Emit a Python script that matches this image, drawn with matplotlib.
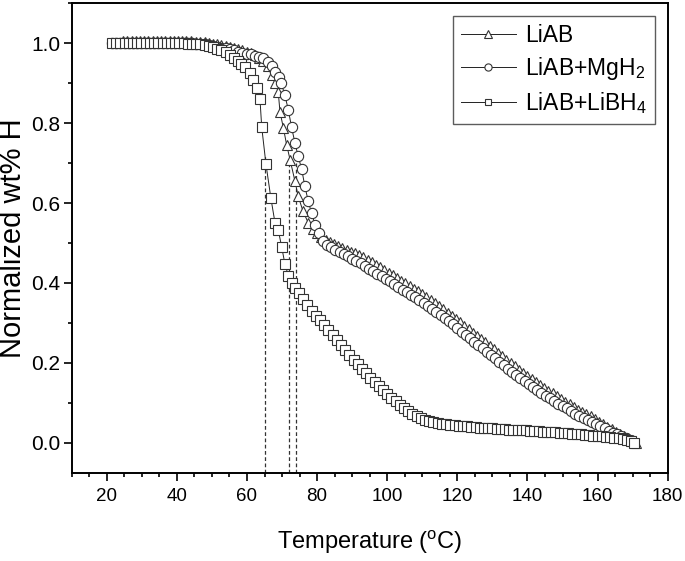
import matplotlib
matplotlib.use("Agg")
import matplotlib.pyplot as plt
from matplotlib.ticker import MultipleLocator

plt.rcParams['font.family'] = ['Liberation Sans', 'DejaVu Sans']
plt.rcParams['mathtext.fontset'] = 'custom'
plt.rcParams['mathtext.rm'] = 'Liberation Sans'
plt.rcParams['mathtext.it'] = 'Liberation Sans:italic'

# ---------------- data ----------------
liab_x = [24.7, 25.9, 27.1, 28.3, 29.5, 30.7, 31.9, 33.1, 34.3, 35.5, 36.7, 37.9, 39.1, 40.3,
          41.5, 42.7, 43.9, 45.5, 46.7, 47.9, 49.1, 50.3, 51.5, 52.7, 53.9, 55.1, 56.3, 57.5,
          58.7, 59.9, 61.1, 62.3, 63.5, 64.7, 65.9, 67.0, 68.0, 68.9, 69.4, 70.4, 71.3, 72.3,
          73.7, 74.6, 76.0, 77.5, 78.8, 80.0, 81.2, 82.4, 83.6, 84.8, 86.0, 87.2, 88.4, 89.6,
          90.8, 92.0, 93.2, 94.4, 95.6, 96.8, 98.0, 99.2, 100.4, 101.6, 102.8, 104.0, 105.2,
          106.4, 107.6, 108.8, 110.0, 111.2, 112.4, 113.6, 114.8, 116.0, 117.2, 118.4, 119.6,
          120.8, 122.0, 123.2, 124.4, 125.6, 126.8, 128.0, 129.2, 130.4, 131.6, 132.8, 134.0,
          135.2, 136.4, 137.6, 138.8, 140.0, 141.2, 142.4, 143.6, 144.8, 146.0, 147.2, 148.4,
          149.6, 150.8, 152.0, 153.2, 154.4, 155.6, 156.8, 158.0, 159.2, 160.4, 161.6, 162.8,
          164.0, 165.2, 166.4, 167.6, 168.8, 170.0, 171.0]
liab_y = [1.005, 1.005, 1.005, 1.005, 1.005, 1.005, 1.005, 1.005, 1.005, 1.005, 1.005, 1.005,
          1.005, 1.005, 1.005, 1.005, 1.005, 1.004, 1.003, 1.002, 1.000, 0.999, 0.997, 0.995,
          0.993, 0.991, 0.989, 0.986, 0.983, 0.979, 0.975, 0.970, 0.963, 0.955, 0.943, 0.920,
          0.900, 0.879, 0.829, 0.787, 0.746, 0.708, 0.654, 0.617, 0.579, 0.550, 0.535, 0.524,
          0.515, 0.508, 0.502, 0.497, 0.492, 0.487, 0.483, 0.478, 0.476, 0.471, 0.465, 0.458,
          0.452, 0.445, 0.439, 0.432, 0.426, 0.419, 0.412, 0.405, 0.399, 0.392, 0.386, 0.379,
          0.372, 0.364, 0.357, 0.349, 0.342, 0.334, 0.326, 0.318, 0.310, 0.301, 0.293, 0.284,
          0.275, 0.267, 0.259, 0.251, 0.242, 0.234, 0.225, 0.217, 0.208, 0.200, 0.192, 0.183,
          0.175, 0.168, 0.160, 0.152, 0.145, 0.137, 0.130, 0.124, 0.116, 0.110, 0.103, 0.096,
          0.089, 0.083, 0.077, 0.071, 0.066, 0.059, 0.053, 0.047, 0.040, 0.034, 0.028, 0.023,
          0.017, 0.012, 0.006, 0.000]

mgh2_x = [21.5, 22.7, 23.9, 25.1, 26.3, 27.5, 28.7, 29.9, 31.1, 32.3, 33.5, 34.7, 35.9, 37.1,
          38.3, 39.5, 40.7, 41.9, 43.1, 44.3, 45.5, 46.7, 47.9, 49.1, 50.3, 51.5, 52.7, 53.9,
          55.1, 56.3, 57.5, 58.7, 59.9, 61.1, 62.3, 63.5, 64.7, 65.9, 67.0, 68.0, 69.0, 69.8,
          70.8, 71.8, 72.7, 73.7, 74.6, 75.6, 76.5, 77.5, 78.4, 79.4, 80.4, 81.6, 82.8, 84.0,
          85.2, 86.4, 87.6, 88.8, 90.0, 91.2, 92.4, 93.6, 94.8, 96.0, 97.2, 98.4, 99.6, 100.8,
          102.0, 103.2, 104.4, 105.6, 106.8, 108.0, 109.2, 110.4, 111.6, 112.8, 114.0, 115.2,
          116.4, 117.6, 118.8, 120.0, 121.2, 122.4, 123.6, 124.8, 126.0, 127.2, 128.4, 129.6,
          130.8, 132.0, 133.2, 134.4, 135.6, 136.8, 138.0, 139.2, 140.4, 141.6, 142.8, 144.0,
          145.2, 146.4, 147.6, 148.8, 150.0, 151.2, 152.4, 153.6, 154.8, 156.0, 157.2, 158.4,
          159.6, 160.8, 162.0, 163.2, 164.4, 165.6, 166.8, 168.0, 169.0, 170.0]
mgh2_y = [1.000, 1.000, 1.000, 1.000, 1.000, 1.000, 1.000, 1.000, 1.000, 1.000, 1.000, 1.000,
          1.000, 1.000, 1.000, 1.000, 1.000, 1.000, 1.000, 1.000, 0.999, 0.998, 0.997, 0.995,
          0.993, 0.991, 0.989, 0.987, 0.985, 0.982, 0.979, 0.976, 0.974, 0.972, 0.969, 0.966,
          0.962, 0.954, 0.943, 0.929, 0.915, 0.900, 0.870, 0.833, 0.790, 0.750, 0.717, 0.685,
          0.642, 0.604, 0.575, 0.546, 0.524, 0.505, 0.496, 0.489, 0.483, 0.478, 0.472, 0.467,
          0.461, 0.455, 0.449, 0.443, 0.436, 0.430, 0.423, 0.417, 0.410, 0.404, 0.397, 0.390,
          0.383, 0.377, 0.370, 0.364, 0.357, 0.349, 0.342, 0.334, 0.327, 0.319, 0.311, 0.304,
          0.296, 0.287, 0.278, 0.270, 0.261, 0.252, 0.244, 0.236, 0.228, 0.219, 0.211, 0.202,
          0.194, 0.185, 0.177, 0.169, 0.161, 0.154, 0.146, 0.139, 0.132, 0.124, 0.117, 0.111,
          0.105, 0.098, 0.092, 0.086, 0.079, 0.073, 0.067, 0.062, 0.057, 0.052, 0.046, 0.041,
          0.036, 0.030, 0.025, 0.021, 0.016, 0.012, 0.008, 0.003]

libh4_x = [21.5, 22.7, 23.9, 25.1, 26.3, 27.5, 28.7, 29.9, 31.1, 32.3, 33.5, 34.7, 35.9, 37.1,
           38.3, 39.5, 40.7, 41.9, 43.1, 44.3, 45.5, 46.7, 47.9, 49.1, 50.3, 51.5, 52.7, 53.9,
           55.1, 56.3, 57.3, 58.3, 59.4, 60.9, 61.8, 62.8, 63.7, 64.2, 65.4, 66.8, 68.0, 68.9,
           69.9, 70.8, 71.8, 72.8, 73.8, 74.9, 76.0, 77.2, 78.4, 79.6, 80.8, 82.0, 83.2, 84.4,
           85.6, 86.8, 88.0, 89.2, 90.4, 91.6, 92.8, 94.0, 95.2, 96.4, 97.6, 98.8, 100.0, 101.2,
           102.4, 103.6, 104.8, 106.0, 107.2, 108.4, 109.6, 110.8, 112.0, 113.2, 114.4, 115.6,
           116.8, 118.0, 119.2, 120.4, 121.6, 122.8, 124.0, 125.2, 126.4, 127.6, 128.8, 130.0,
           131.2, 132.4, 133.6, 134.8, 136.0, 137.2, 138.4, 139.6, 140.8, 142.0, 143.2, 144.4,
           145.6, 146.8, 148.0, 149.2, 150.4, 151.6, 152.8, 154.0, 155.2, 156.4, 157.6, 158.8,
           160.0, 161.2, 162.4, 163.6, 164.8, 166.0, 167.2, 168.4, 169.6, 170.5]
libh4_y = [1.000, 1.000, 1.000, 1.000, 1.000, 1.000, 1.000, 1.000, 1.000, 1.000, 1.000, 1.000,
           1.000, 1.000, 1.000, 1.000, 1.000, 1.000, 0.999, 0.999, 0.998, 0.997, 0.995, 0.993,
           0.990, 0.986, 0.982, 0.977, 0.970, 0.963, 0.956, 0.948, 0.940, 0.925, 0.908, 0.888,
           0.860, 0.790, 0.698, 0.613, 0.550, 0.533, 0.490, 0.448, 0.418, 0.400, 0.388, 0.375,
           0.360, 0.344, 0.330, 0.318, 0.306, 0.294, 0.282, 0.270, 0.257, 0.244, 0.231, 0.219,
           0.207, 0.196, 0.185, 0.174, 0.163, 0.153, 0.143, 0.133, 0.123, 0.113, 0.104, 0.095,
           0.087, 0.079, 0.072, 0.066, 0.061, 0.057, 0.054, 0.051, 0.049, 0.047, 0.046, 0.045,
           0.044, 0.043, 0.042, 0.041, 0.040, 0.039, 0.038, 0.037, 0.036, 0.036, 0.035, 0.034,
           0.034, 0.033, 0.033, 0.032, 0.031, 0.031, 0.030, 0.029, 0.029, 0.028, 0.027, 0.027,
           0.026, 0.025, 0.025, 0.024, 0.023, 0.022, 0.021, 0.020, 0.019, 0.018, 0.017, 0.016,
           0.015, 0.014, 0.013, 0.011, 0.009, 0.007, 0.004, 0.000]

series_labels = ['LiAB', r'LiAB+MgH$_2$', r'LiAB+LiBH$_4$']
series_markers = ['^', 'o', 's']

onset_T = [65, 72, 74]
onset_top = [0.72, 0.70, 0.70]

x_ticks = [20, 40, 60, 80, 100, 120, 140, 160, 180]
y_ticks = [0.0, 0.2, 0.4, 0.6, 0.8, 1.0]

# ---------------- figure ----------------
fig = plt.figure(figsize=(6.85, 5.61), dpi=100)
ax = fig.add_axes([0.1047, 0.1574, 0.87, 0.8367])

ymin, ymax = -0.075, 1.1
ax.vlines(onset_T, ymin, onset_top, colors='#333333', linestyles=(0, (3, 2)), linewidth=0.9, zorder=1)

data = [(liab_x, liab_y), (mgh2_x, mgh2_y), (libh4_x, libh4_y)]
for (xs, ys), lab, mk in zip(data, series_labels, series_markers):
    ms = 7.8 if mk == '^' else (7.4 if mk == 'o' else 6.6)
    ax.plot(xs, ys, color='#222222', linewidth=0.7, marker=mk, markersize=ms,
            markerfacecolor='white', markeredgecolor='#333333', markeredgewidth=0.8,
            label=lab, zorder=2)

ax.set_xlim(10, 180)
ax.set_ylim(ymin, ymax)
ax.set_xticks(x_ticks)
ax.set_yticks(y_ticks)
ax.set_yticklabels([f'{v:.1f}' for v in y_ticks])
ax.xaxis.set_minor_locator(MultipleLocator(5))
ax.yaxis.set_minor_locator(MultipleLocator(0.1))
ax.tick_params(axis='both', which='major', direction='out', length=6, width=1.2,
               top=False, right=False)
ax.tick_params(axis='x', which='major', labelsize=13.5, pad=5)
ax.tick_params(axis='y', which='major', labelsize=15, pad=2)
ax.tick_params(axis='both', which='minor', direction='out', length=3, width=1.2,
               top=False, right=False)
for sp in ax.spines.values():
    sp.set_linewidth(1.4)

ax.set_xlabel(r'Temperature ($^{\rm o}$C)', fontsize=17, labelpad=17)
ax.set_ylabel('Normalized wt% H', fontsize=21, labelpad=3)

leg = ax.legend(loc='upper right', fontsize=16.5, frameon=True, fancybox=False,
                edgecolor='#333333', handlelength=2.4, borderpad=0.35,
                labelspacing=0.35, handletextpad=0.4, borderaxespad=0.55,
                markerscale=0.7)
leg.get_frame().set_linewidth(1.0)

fig.savefig('out.png', dpi=100)
